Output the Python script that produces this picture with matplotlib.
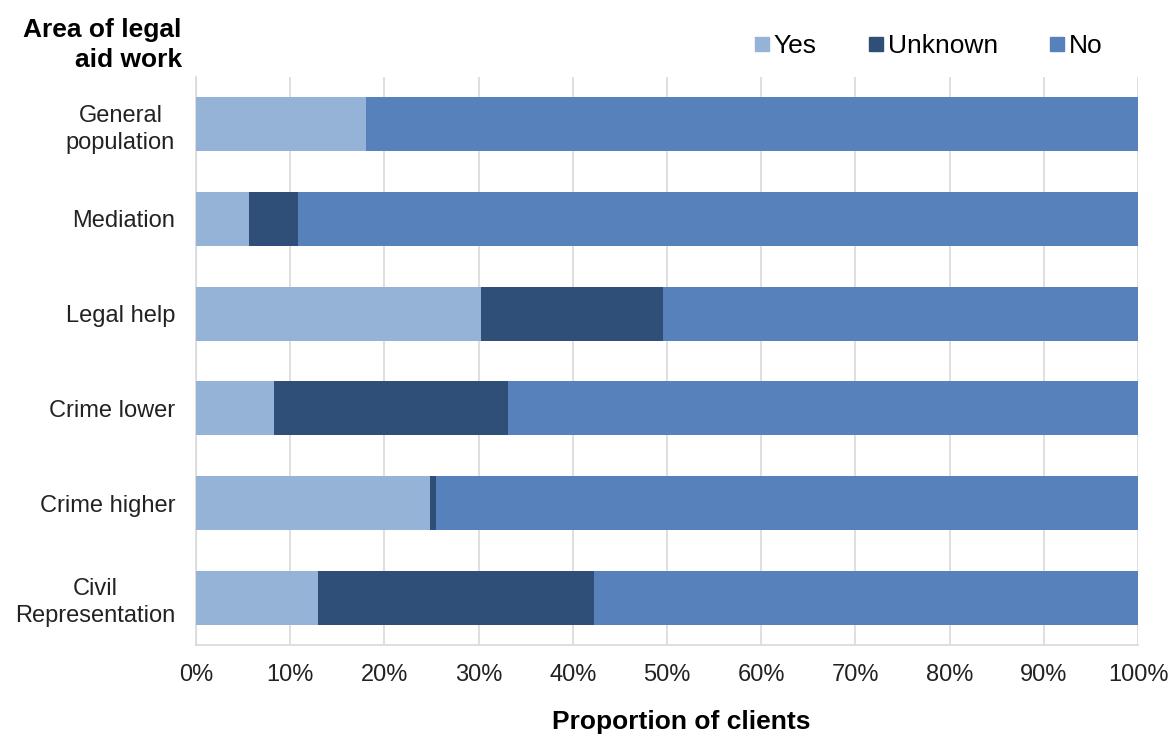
import matplotlib.pyplot as plt
from matplotlib.lines import Line2D
from matplotlib.ticker import PercentFormatter

plt.rcParams["font.family"] = ["Liberation Sans", "DejaVu Sans"]

areas = [
    "General\npopulation",
    "Mediation",
    "Legal help",
    "Crime lower",
    "Crime higher",
    "Civil\nRepresentation",
]
yes = [18.0, 5.6, 30.3, 8.3, 24.8, 13.0]
unknown = [0.0, 5.2, 19.3, 24.8, 0.7, 29.3]
no = [100 - y - u for y, u in zip(yes, unknown)]

series = [("Yes", yes, "#95b3d7"), ("Unknown", unknown, "#2f4f78"), ("No", no, "#5681ba")]

fig = plt.figure(figsize=(11.72, 7.38), dpi=100)
ax = fig.add_axes([0.1672, 0.126, 0.8038, 0.7697])

pos = list(range(len(areas)))[::-1]
left = [0.0] * len(areas)
for name, vals, color in series:
    ax.barh(pos, vals, left=left, height=0.57, color=color, label=name, zorder=3)
    left = [a + b for a, b in zip(left, vals)]

ax.set_xlim(0, 100)
ax.set_ylim(-0.5, len(areas) - 0.5)
ax.set_xticks(range(0, 101, 10))
ax.xaxis.set_major_formatter(PercentFormatter(decimals=0))
ax.set_yticks(pos)
ax.set_yticklabels(areas, fontsize=17, color="#222222", linespacing=1.3)
for lbl in ax.get_yticklabels():
    lbl.set_multialignment("center")
ax.tick_params(axis="x", labelsize=17, labelcolor="#222222", length=0, pad=14)
ax.tick_params(axis="y", length=0, pad=15)
ax.grid(axis="x", color="#d9d9d9", linewidth=1.2, zorder=0)
for side in ["top", "right"]:
    ax.spines[side].set_visible(False)
for side in ["left", "bottom"]:
    ax.spines[side].set_color("#d9d9d9")
    ax.spines[side].set_linewidth(1.2)

ax.set_xlabel("Proportion of clients", fontsize=19, fontweight="bold", va="center")
ax.xaxis.set_label_coords(0.515, -0.136)

fig.text(0.155, 0.976, "Area of legal\naid work", ha="right", va="top",
         fontsize=19, fontweight="bold", linespacing=1.35)

handles = [Line2D([], [], marker="s", linestyle="none", markersize=10,
                  markerfacecolor=c, markeredgecolor=c) for _, _, c in series]
fig.legend(handles, [s[0] for s in series], loc="center", bbox_to_anchor=(0.791, 0.937),
           ncol=3, frameon=False, fontsize=19, handletextpad=0.05, columnspacing=1.85,
           handlelength=0.8)

fig.savefig("out.png", dpi=100)
